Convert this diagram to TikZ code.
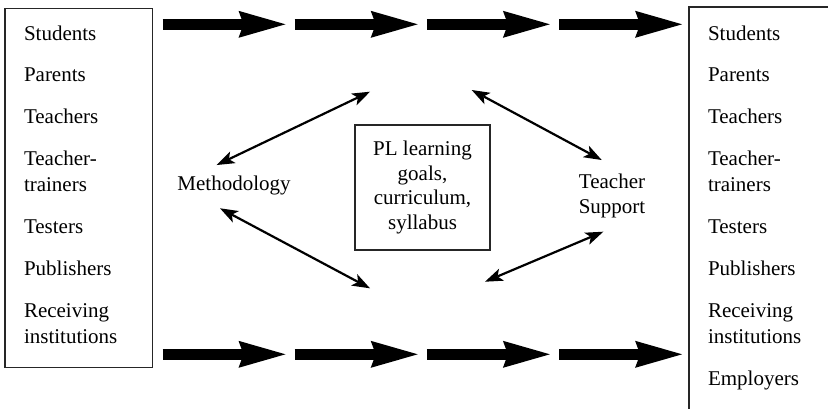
\documentclass[tikz,border=0pt]{standalone}
\usepackage{fontspec}
\setmainfont{Liberation Serif}
\usetikzlibrary{arrows.meta}

\begin{document}
\begin{tikzpicture}[x=1pt,y=-1pt,
  every node/.style={inner sep=0pt, outer sep=0pt},
  frame/.style={draw=black!85, line width=1.2pt},
  item/.style={anchor=base west, align=left, font=\fontsize{21pt}{26pt}\selectfont},
  label/.style={anchor=base, align=center, font=\fontsize{21pt}{25pt}\selectfont},
  flow/.style={line width=10.7pt, -{Stealth[length=47pt, width=27pt, inset=5pt, line width=0pt]}},
  tip/.style={Stealth[length=18pt, width=13pt, inset=4.5pt, line width=0pt]},
  link/.style={line width=2.2pt, {Stealth[length=18pt, width=13pt, inset=4.5pt, line width=0pt]}-{Stealth[length=18pt, width=13pt, inset=4.5pt, line width=0pt]}}
]
\useasboundingbox (0,0) rectangle (828,408);
\clip (0,0) rectangle (828,408);

% stakeholder frames
\node[frame, minimum width=147.3pt, minimum height=359pt] (lbox) at (78.65,187.8) {};
\node[frame, minimum width=211pt, minimum height=443pt] (rbox) at (794.5,228.5) {};

% left stakeholders (multi-line items are placed by their last baseline)
\node[item] (l1) at (24,40) {Students};
\node[item] (l2) at (24,81.7) {Parents};
\node[item] (l3) at (24,123.4) {Teachers};
\node[item] (l4) at (24,191) {Teacher-\\trainers};
\node[item] (l5) at (24,233.3) {Testers};
\node[item] (l6) at (24,275.3) {Publishers};
\node[item] (l7) at (24,343.3) {Receiving\\institutions};

% right stakeholders
\node[item] (r1) at (708,40) {Students};
\node[item] (r2) at (708,81.7) {Parents};
\node[item] (r3) at (708,123.4) {Teachers};
\node[item] (r4) at (708,191) {Teacher-\\trainers};
\node[item] (r5) at (708,233.3) {Testers};
\node[item] (r6) at (708,275.3) {Publishers};
\node[item] (r7) at (708,343.3) {Receiving\\institutions};
\node[item] (r8) at (708,385) {Employers};

% centre
\node[frame, minimum width=135pt, minimum height=125pt] (goalbox) at (422.5,187.5) {};
\node[align=center, font=\fontsize{21pt}{24.5pt}\selectfont] (goals) at (422.5,187.5)
  {PL learning\\goals,\\curriculum,\\syllabus};
\node[label] (meth) at (234,190) {Methodology};
\node[label] (supp) at (612,213) {Teacher\\Support};

% flow arrows, top and bottom rows
\foreach \k in {0,1,2,3} {
  \coordinate (ts\k) at ({162.5+132.2*\k},24.3);
  \coordinate (te\k) at ({285.5+132.2*\k},24.3);
  \coordinate (bs\k) at ({162.5+132.2*\k},354.3);
  \coordinate (be\k) at ({285.5+132.2*\k},354.3);
  \draw[flow] (ts\k) -- (te\k);
  \draw[flow] (bs\k) -- (be\k);
}

% two-way links around the centre
\coordinate (m1) at (216.7,165);
\coordinate (t1) at (370,91.7);
\coordinate (t2) at (471.7,90);
\coordinate (s1) at (601.7,160);
\coordinate (m2) at (220,208.3);
\coordinate (b1) at (370,288.3);
\coordinate (b2) at (485,281.7);
\coordinate (s2) at (603.3,231.7);
\draw[link] (m1) -- (t1);
\draw[link] (t2) -- (s1);
\draw[link] (m2) -- (b1);
\draw[link] (b2) -- (s2);
\end{tikzpicture}
\end{document}
